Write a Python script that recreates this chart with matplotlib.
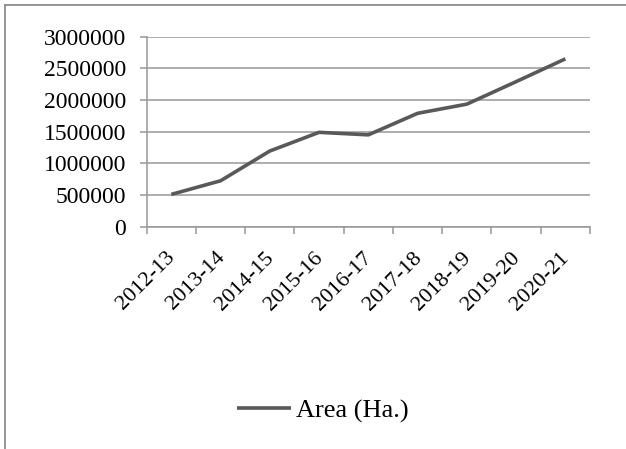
import matplotlib
matplotlib.use("Agg")
import matplotlib.pyplot as plt
from matplotlib.lines import Line2D
from matplotlib import transforms
import numpy as np

# data
years = ["2012-13", "2013-14", "2014-15", "2015-16", "2016-17",
         "2017-18", "2018-19", "2019-20", "2020-21"]
area_ha = [510000, 725000, 1195000, 1490000, 1450000,
           1790000, 1935000, 2290000, 2650000]
y_ticks = [0, 500000, 1000000, 1500000, 2000000, 2500000, 3000000]

plt.rcParams['font.family'] = ['Liberation Serif', 'DejaVu Serif']

fig = plt.figure(figsize=(6.26, 4.49), dpi=100)
ax = fig.add_axes([0.2343, 0.4951, 0.7082, 0.4232])

grid_col = '#979797'
line_col = '#595959'

x = np.arange(len(years))
ax.plot(x, area_ha, color=line_col, lw=2.6, solid_capstyle='butt',
        label='Area (Ha.)')

ax.set_xlim(-0.5, len(years) - 0.5)
ax.set_ylim(0, 3000000)
ax.set_yticks(y_ticks)
ax.set_yticklabels([str(v) for v in y_ticks])
ax.yaxis.grid(True, color=grid_col, lw=1.1)
ax.set_axisbelow(True)

for s in ['top', 'right']:
    ax.spines[s].set_visible(False)
for s in ['left', 'bottom']:
    ax.spines[s].set_color(grid_col)
    ax.spines[s].set_linewidth(1.1)

# boundary tick marks on the category axis
ax.set_xticks(np.arange(-0.5, len(years)), minor=True)
ax.tick_params(axis='x', which='minor', length=5, width=1.1, color=grid_col, direction='out')
ax.set_xticks(x)
ax.tick_params(axis='x', which='major', length=0, pad=15.5)
ax.set_xticklabels(years, rotation=45, ha='right', rotation_mode='anchor', fontsize=16)
offs = transforms.ScaledTranslation(-5.5 / 100, 0, fig.dpi_scale_trans)
for lbl in ax.get_xticklabels():
    lbl.set_transform(lbl.get_transform() + offs)

ax.tick_params(axis='y', length=5, width=1.1, color=grid_col, pad=10, labelsize=17)

# legend below the plot
fig.legend(loc='center', bbox_to_anchor=(323 / 626, 1 - 411 / 449), frameon=False,
           fontsize=19, handlelength=2.05, handletextpad=0.2)

# outer chart frame (only top and left edges show)
fig.add_artist(Line2D([4.5 / 626, 1], [1 - 4.5 / 449, 1 - 4.5 / 449],
                      transform=fig.transFigure, color='#8c8c8c', lw=1.3))
fig.add_artist(Line2D([4.5 / 626, 4.5 / 626], [0, 1 - 4.5 / 449],
                      transform=fig.transFigure, color='#8c8c8c', lw=1.3))

fig.savefig('out.png', dpi=100)
